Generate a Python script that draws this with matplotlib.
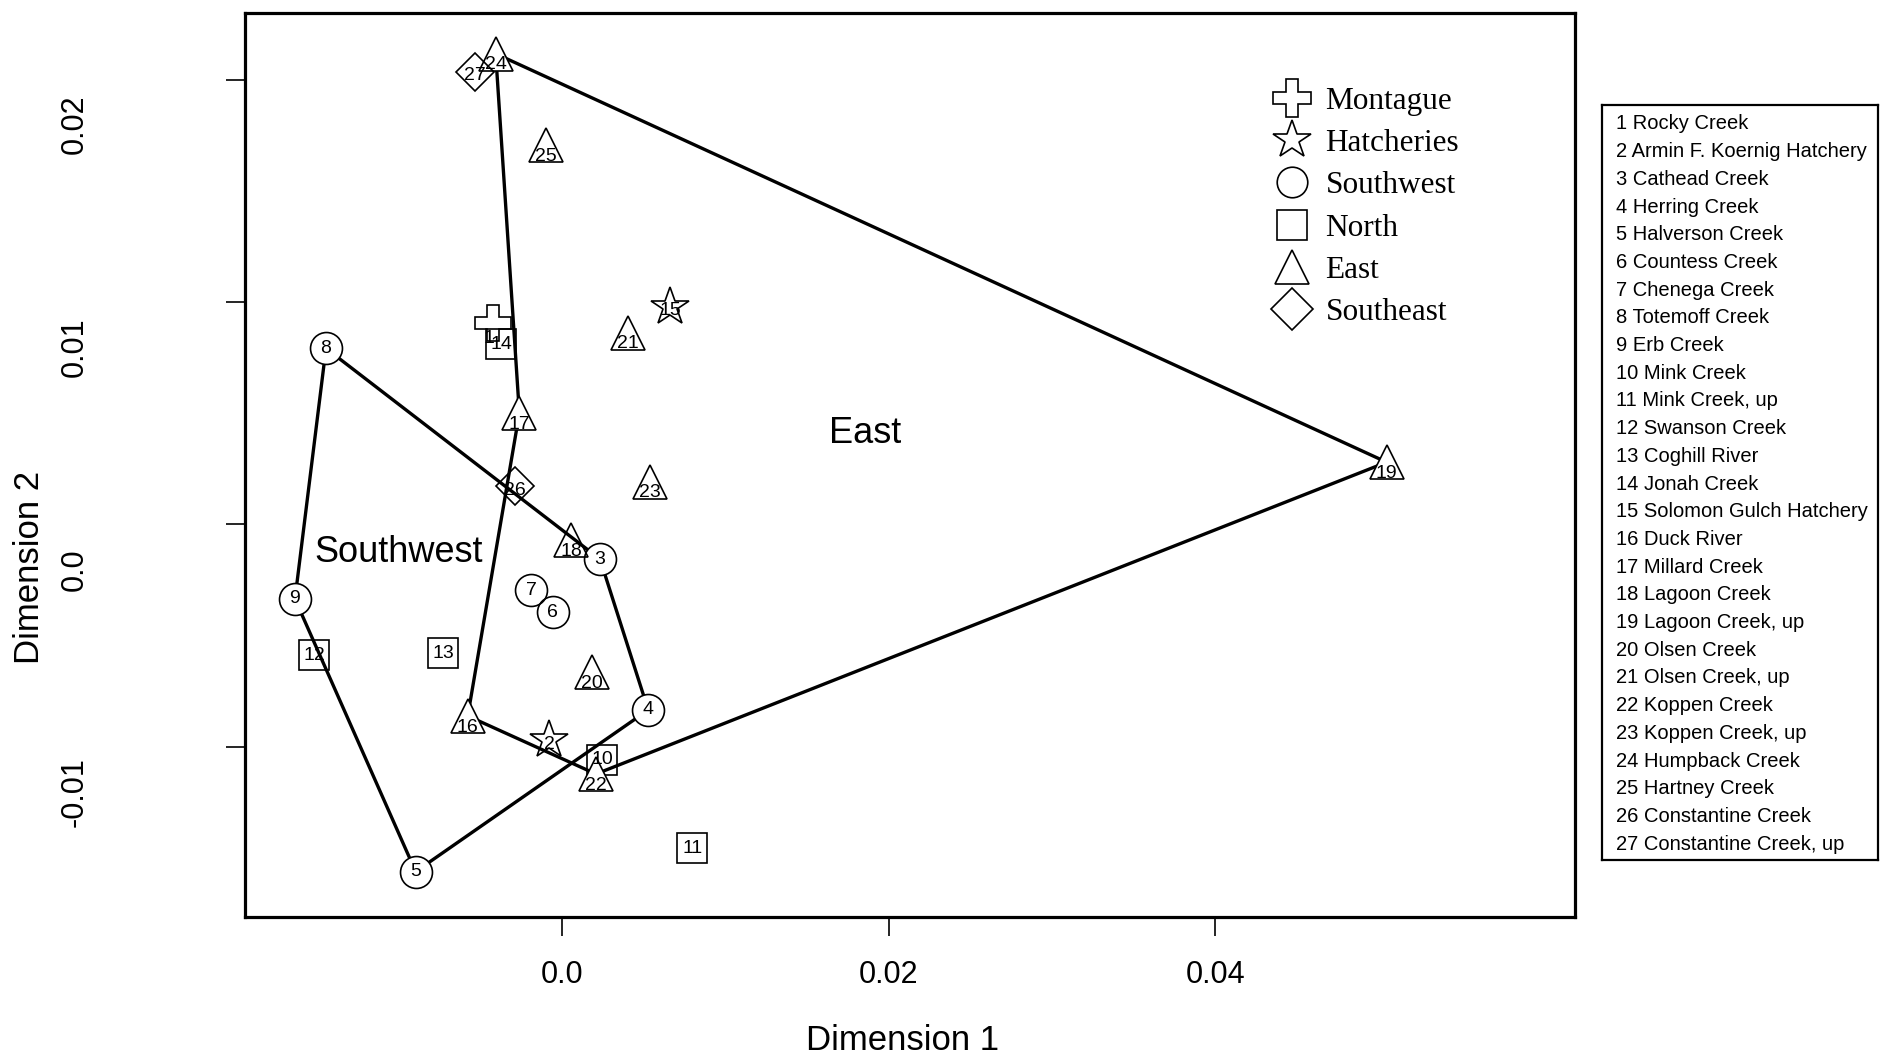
import matplotlib
matplotlib.use("Agg")
import matplotlib.pyplot as plt
from matplotlib.lines import Line2D
from matplotlib import transforms as mtrans
from matplotlib import font_manager as fm

# ---------------- data ----------------
site_ids = list(range(1, 28))
site_names = ["Rocky Creek", "Armin F. Koernig Hatchery", "Cathead Creek", "Herring Creek",
              "Halverson Creek", "Countess Creek", "Chenega Creek", "Totemoff Creek", "Erb Creek",
              "Mink Creek", "Mink Creek, up", "Swanson Creek", "Coghill River", "Jonah Creek",
              "Solomon Gulch Hatchery", "Duck River", "Millard Creek", "Lagoon Creek",
              "Lagoon Creek, up", "Olsen Creek", "Olsen Creek, up", "Koppen Creek",
              "Koppen Creek, up", "Humpback Creek", "Hartney Creek", "Constantine Creek",
              "Constantine Creek, up"]
site_group = ["Montague", "Hatcheries", "Southwest", "Southwest", "Southwest", "Southwest",
              "Southwest", "Southwest", "Southwest", "North", "North", "North", "North", "North",
              "Hatcheries", "East", "East", "East", "East", "East", "East", "East", "East", "East",
              "East", "Southeast", "Southeast"]
dim1 = [-0.00424, -0.00078, 0.00233, 0.00528, -0.00896, -0.00057, -0.00190, -0.01445, -0.01635,
        0.00245, 0.00798, -0.01519, -0.00727, -0.00372, 0.00661, -0.00577, -0.00261, 0.00055,
        0.05050, 0.00182, 0.00402, 0.00208, 0.00539, -0.00406, -0.00098, -0.00288, -0.00533]
dim2 = [0.00907, -0.00969, -0.00156, -0.00834, -0.01561, -0.00395, -0.00295, 0.00792, -0.00335,
        -0.01058, -0.01456, -0.00587, -0.00579, 0.00810, 0.00979, -0.00861, 0.00501, -0.00071,
        0.00280, -0.00665, 0.00862, -0.01122, 0.00192, 0.02117, 0.01705, 0.00173, 0.02036]
southwest_hull = [8, 3, 4, 5, 9, 8]
east_hull = [24, 19, 22, 16, 17, 24]
group_order = ["Montague", "Hatcheries", "Southwest", "North", "East", "Southeast"]
xticks = [0.0, 0.02, 0.04]
xtick_labels = ["0.0", "0.02", "0.04"]
yticks = [-0.01, 0.0, 0.01, 0.02]
ytick_labels = ["-0.01", "0.0", "0.01", "0.02"]

# ---------------- styles ----------------
marker_of = {"Montague": "P", "Hatcheries": "*", "Southwest": "o", "North": "s",
             "East": "^", "Southeast": "D"}
size_of = {"Montague": 26, "Hatcheries": 29, "Southwest": 23, "North": 21,
           "East": 24, "Southeast": 19}
legend_size = {"Montague": 27, "Hatcheries": 29, "Southwest": 22, "North": 21,
               "East": 25, "Southeast": 21}
label_dy = {"Montague": -11, "Hatcheries": -3, "Southwest": 0, "North": 0,
            "East": -8, "Southeast": -3}
label_dx = {"Montague": -3, "Hatcheries": 0, "Southwest": 0, "North": 0,
            "East": 0, "Southeast": 0}

names = {f.name for f in fm.fontManager.ttflist}
NARROW = "Liberation Sans Narrow" if "Liberation Sans Narrow" in names else "Liberation Sans"
SANS = "Liberation Sans"
SERIF = "Liberation Serif"

fig = plt.figure(figsize=(18.91, 10.58), dpi=100)
ax = fig.add_axes([0.12956, 0.13327, 0.70333, 0.85444])
ax.set_xlim(-0.01941, 0.06203)
ax.set_ylim(-0.01765, 0.0230)

for s in ax.spines.values():
    s.set_linewidth(2.3)

# hull lines
for hull in (southwest_hull, east_hull):
    ax.plot([dim1[i - 1] for i in hull], [dim2[i - 1] for i in hull],
            color="black", lw=2.4, zorder=2, solid_capstyle="butt")

hull_vertices = set(southwest_hull) | set(east_hull)
for i in site_ids:
    g = site_group[i - 1]
    x, y = dim1[i - 1], dim2[i - 1]
    fc = "white" if i in hull_vertices else "none"
    ax.plot([x], [y], marker=marker_of[g], ms=size_of[g], mfc=fc, mec="black",
            mew=1.2, ls="none", zorder=3)
    off = mtrans.offset_copy(ax.transData, fig=fig, x=label_dx[g], y=label_dy[g], units="points")
    ax.text(x, y, str(i), transform=off, ha="center", va="center",
            fontsize=14, family=SANS, zorder=4)

# region labels
ax.text(0.01855, 0.00411, "East", fontsize=26, family=SANS, ha="center", va="center")
ax.text(-0.00998, -0.00124, "Southwest", fontsize=26, family=SANS, ha="center", va="center")

# ticks
ax.set_xticks(xticks)
ax.set_xticklabels(xtick_labels, fontsize=22, family=NARROW)
ax.set_yticks(yticks)
ax.tick_params(axis="both", direction="out", length=14, width=1.2)
ax.tick_params(axis="x", pad=17)
ax.tick_params(axis="y", labelleft=False)
ytrans = mtrans.blended_transform_factory(ax.transAxes, ax.transData) + \
    mtrans.ScaledTranslation(0, -0.45, fig.dpi_scale_trans)
for v, lab in zip(yticks, ytick_labels):
    ax.text(-0.1278, v, lab, transform=ytrans, rotation=90, ha="center", va="center",
            fontsize=22, family=NARROW)

ax.set_xlabel("Dimension 1", fontsize=25, family=NARROW, va="center")
ax.xaxis.set_label_coords(0.4947, -0.1361)
ax.set_ylabel("Dimension 2", fontsize=25, family=NARROW, va="center", ha="center")
ax.yaxis.set_label_coords(-0.162, 0.3872)

# symbol legend
handles = [Line2D([], [], marker=marker_of[g], ms=legend_size[g], mfc="white", mec="black",
                  mew=1.2, ls="none", label=g) for g in group_order]
ax.legend(handles=handles, loc="upper left", bbox_to_anchor=(0.776, 0.918),
          borderaxespad=0, borderpad=0, frameon=False, handlelength=0.95,
          handletextpad=0.6, labelspacing=0.42, prop={"family": SERIF, "size": 22.5})

# site-name box
nax = fig.add_axes([0.8472, 0.1871, 0.1459, 0.7137])
nax.set_xlim(0, 1)
nax.set_ylim(0, 1)
nax.set_xticks([])
nax.set_yticks([])
for s in nax.spines.values():
    s.set_linewidth(1.6)
n = len(site_names)
for k, (i, name) in enumerate(zip(site_ids, site_names)):
    yy = 1 - (0.0252 + k * (0.979 - 0.0252) / (n - 1))
    nax.text(0.0507, yy, f"{i} {name}", fontsize=14.5, family=SANS, ha="left", va="center")

fig.savefig("out.png", dpi=100)
